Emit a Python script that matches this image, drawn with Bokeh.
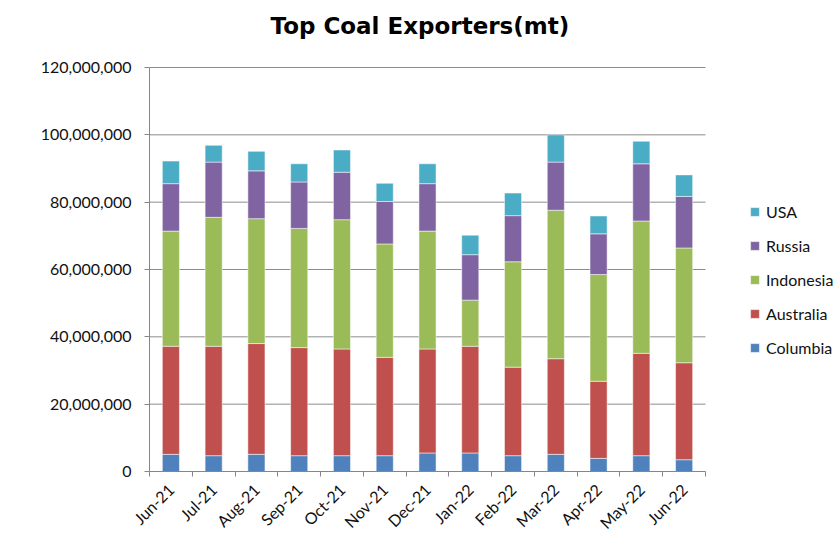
import numpy as np
from bokeh.plotting import figure
from bokeh.models import (ColumnDataSource, Range1d, FixedTicker, NumeralTickFormatter,
                          Legend, LegendItem, Label)
from bokeh.embed import file_html
from bokeh.resources import INLINE

title_text = "Top Coal Exporters(mt)"
months = ["Jun-21", "Jul-21", "Aug-21", "Sep-21", "Oct-21", "Nov-21", "Dec-21",
          "Jan-22", "Feb-22", "Mar-22", "Apr-22", "May-22", "Jun-22"]
columbia = [5.1, 4.7, 5.1, 4.7, 4.7, 4.7, 5.5, 5.5, 4.7, 5.1, 3.9, 4.7, 3.5]
australia = [32.1, 32.5, 32.9, 32.1, 31.7, 29.2, 30.9, 31.7, 26.3, 28.4, 22.9, 30.4, 28.8]
indonesia = [34.2, 38.3, 37.1, 35.4, 38.4, 33.7, 35.0, 13.7, 31.3, 44.1, 31.7, 39.3, 34.1]
russia = [14.1, 16.4, 14.2, 13.8, 14.1, 12.6, 14.1, 13.5, 13.7, 14.3, 12.1, 17.0, 15.3]
usa = [6.7, 5.0, 5.8, 5.4, 6.6, 5.4, 5.9, 5.8, 6.7, 8.1, 5.3, 6.7, 6.4]
series = ["Columbia", "Australia", "Indonesia", "Russia", "USA"]
colors = ["#4F81BD", "#C0504D", "#9BBB59", "#8064A2", "#4BACC6"]
y_ticks = [0, 20e6, 40e6, 60e6, 80e6, 100e6, 120e6]
y_max = 120e6

n = len(months)
x = np.arange(n) + 0.5
data = dict(x=x)
for name, vals in zip(series, [columbia, australia, indonesia, russia, usa]):
    data[name] = np.array(vals) * 1e6
source = ColumnDataSource(data)

FONT = "Lato"
W, H = 840, 541
LEFT = 149
BOTTOM = 70
PLOT_W = 556            # px width of the category area
PLOT_H = 404            # px height of the 0..120M area
FRAME_W = W - LEFT      # frame spans to the right edge (room for legend)
FRAME_H = H - BOTTOM    # frame spans to the top edge (room for title)
x_end = n * FRAME_W / PLOT_W
y_end = y_max * FRAME_H / PLOT_H

p = figure(width=W, height=H, output_backend="svg", toolbar_location=None,
           title=None,
           x_range=Range1d(0, x_end), y_range=Range1d(0, y_end),
           min_border_left=LEFT, min_border_right=0, min_border_top=0,
           min_border_bottom=BOTTOM)

# horizontal gridlines limited to the category area
grid_src = ColumnDataSource(dict(x0=[0] * len(y_ticks), x1=[n] * len(y_ticks), y=y_ticks))
p.segment(x0="x0", x1="x1", y0="y", y1="y", source=grid_src,
          line_color="#8C8C8C", line_width=1)

renderers = p.vbar_stack(series, x="x", width=0.4, source=source, color=colors,
                         line_color="white", line_alpha=0.5, line_width=1)

# title
p.add_layout(Label(x=0, y=y_end, x_offset=121, y_offset=-25, text=title_text,
                   text_align="left", text_baseline="alphabetic",
                   text_font="DejaVu Sans", text_font_style="bold",
                   text_font_size="23px", text_color="#000000"))

p.outline_line_color = None
p.background_fill_color = "white"
p.border_fill_color = "white"
p.xgrid.grid_line_color = None
p.ygrid.grid_line_color = None

# y axis
p.yaxis.bounds = (0, y_max)
p.yaxis.ticker = FixedTicker(ticks=y_ticks)
p.yaxis.formatter = NumeralTickFormatter(format="0,0")
p.yaxis.axis_line_color = "#868686"
p.yaxis.major_tick_line_color = "#868686"
p.yaxis.major_tick_out = 5
p.yaxis.major_tick_in = 0
p.yaxis.minor_tick_line_color = None
p.yaxis.major_label_standoff = 13
p.yaxis.major_label_text_font = FONT
p.yaxis.major_label_text_font_size = "16px"
p.yaxis.major_label_text_color = "#111111"

# x axis
p.xaxis.bounds = (0, n)
p.xaxis.ticker = FixedTicker(ticks=list(x), minor_ticks=list(range(n + 1)))
p.xaxis.major_label_overrides = {float(xx): m for xx, m in zip(x, months)}
p.xaxis.major_label_orientation = np.pi / 4
p.xaxis.axis_line_color = "#868686"
p.xaxis.major_tick_line_color = None
p.xaxis.major_tick_out = 0
p.xaxis.minor_tick_line_color = "#868686"
p.xaxis.minor_tick_out = 5
p.xaxis.minor_tick_in = 0
p.xaxis.major_label_standoff = 10
p.xaxis.major_label_text_font = FONT
p.xaxis.major_label_text_font_size = "16px"
p.xaxis.major_label_text_color = "#111111"

items = [LegendItem(label=s, renderers=[r]) for s, r in zip(series, renderers)][::-1]
legend = Legend(items=items, location=(600, 114), border_line_color=None,
                background_fill_alpha=0, glyph_width=11, glyph_height=11,
                label_text_font=FONT, label_text_font_size="16px",
                label_height=20, spacing=14, padding=10, margin=0, label_standoff=6,
                label_text_color="#111111")
p.add_layout(legend, "center")

open("out.html", "w").write(file_html(p, INLINE))
